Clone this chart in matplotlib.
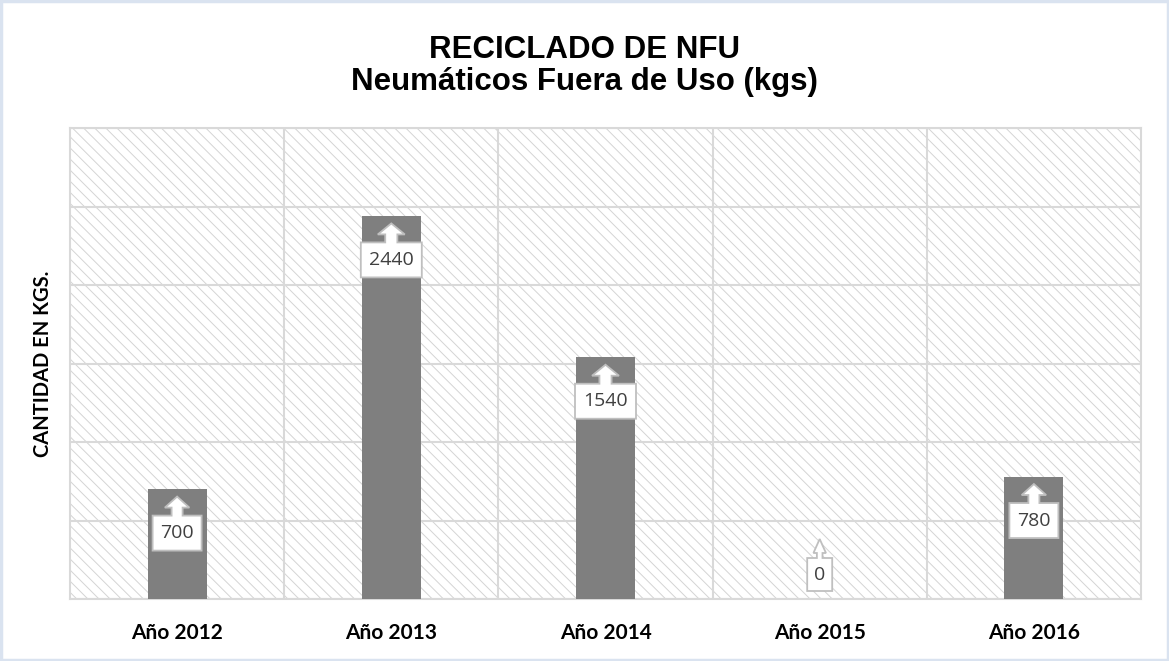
import matplotlib.pyplot as plt
from matplotlib.patches import Rectangle, Polygon
import matplotlib.transforms as mtransforms

years = ["Año 2012", "Año 2013", "Año 2014", "Año 2015", "Año 2016"]
kgs = [700, 2440, 1540, 0, 780]

bar_color = "#7f7f7f"
grid_color = "#d9d9d9"
hatch_color = "#d4d4d4"

plt.rcParams["hatch.linewidth"] = 0.7

fig = plt.figure(figsize=(11.69, 6.61), dpi=100)
ax = fig.add_axes([70 / 1169, 62 / 661, (1141 - 70) / 1169, (599 - 128) / 661])

# hatched plot background
bg = Rectangle((0, 0), 1, 1, transform=ax.transAxes, facecolor="white",
               edgecolor=hatch_color, hatch="\\\\\\", linewidth=0, zorder=0)
ax.add_patch(bg)

x = list(range(len(years)))
ax.bar(x, kgs, width=0.275, color=bar_color, zorder=3)

ax.set_xlim(-0.5, len(years) - 0.5)
ax.set_ylim(0, 3000)
ax.set_yticks(range(0, 3001, 500))
ax.set_xticks([i + 0.5 for i in x[:-1]], minor=True)
ax.yaxis.grid(True, color=grid_color, linewidth=1.5, zorder=1)
ax.xaxis.grid(True, which="minor", color=grid_color, linewidth=1.5, zorder=1)
ax.tick_params(axis="y", left=False, labelleft=False)
ax.tick_params(axis="x", which="both", bottom=False, length=0, pad=17)
ax.set_xticks(x)
ax.set_xticklabels(years, fontfamily="Lato", fontweight="bold", fontsize=15, color="black")
ax.set_axisbelow(True)
for s in ax.spines.values():
    s.set_color(grid_color)
    s.set_linewidth(1.5)

ax.set_ylabel("CANTIDAD EN KGS.", fontfamily="Lato", fontweight="bold", fontsize=14.5,
              labelpad=12)

fig.text(0.5, 1 - 50 / 661, "RECICLADO DE NFU", ha="center", va="center",
         fontfamily="Liberation Sans", fontweight="bold", fontsize=22.5)
fig.text(0.5, 1 - 82 / 661, "Neumáticos Fuera de Uso (kgs)", ha="center", va="center",
         fontfamily="Liberation Sans", fontweight="bold", fontsize=22.5)

# callout labels: box with an up-arrow pointing at the bar top (offsets in inches)
for xi, v in zip(x, kgs):
    label = str(v)
    w = (13 + 12 * len(label)) / 100
    hw = min(0.135, w * 0.25)
    sw = hw * 0.45
    head_h = 0.11 if v > 0 else 0.14
    shaft = 0.08 if v > 0 else 0.05
    box_h = 0.35 if v > 0 else 0.33
    if v > 0:
        tip = -0.075
        top = tip - head_h - shaft
        bot = top - box_h
    else:
        # zero value: sit the callout just above the axis line
        bot = 0.08
        top = bot + box_h
        tip = top + shaft + head_h
    verts = [(-w / 2, bot), (w / 2, bot), (w / 2, top), (sw, top),
             (sw, tip - head_h), (hw, tip - head_h), (0, tip), (-hw, tip - head_h),
             (-sw, tip - head_h), (-sw, top), (-w / 2, top)]
    trans = fig.dpi_scale_trans + mtransforms.ScaledTranslation(xi, v, ax.transData)
    poly = Polygon(verts, closed=True, transform=trans, facecolor="white",
                   edgecolor="#bfbfbf", linewidth=1.3, zorder=5)
    ax.add_patch(poly)
    ax.text(0, (top + bot) / 2, label, transform=trans, ha="center", va="center",
            fontfamily="Open Sans", fontsize=14, color="#404040", zorder=6)

# light outer frame
fig.patches.append(Rectangle((0.001, 0.001), 0.998, 0.997, transform=fig.transFigure,
                             fill=False, edgecolor="#dae3f0", linewidth=2.5))

fig.savefig("out.png", dpi=100)
